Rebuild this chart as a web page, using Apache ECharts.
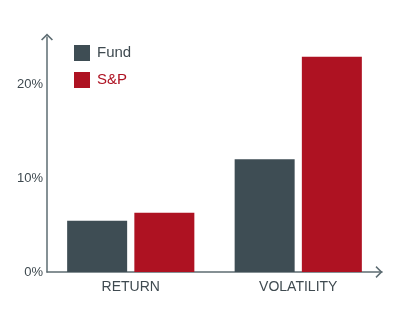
<!DOCTYPE html>
<html><head><meta charset="utf-8">
<script src="https://cdn.jsdelivr.net/npm/echarts@6/dist/echarts.min.js"></script>
<style>html,body{margin:0;padding:0;background:#fff}#c{width:402px;height:320px}</style>
</head><body><div id="c"></div>
<script>
const categories = ['RETURN', 'VOLATILITY'];
const fundValues = [5.45, 12.0];
const spValues = [6.3, 22.9];
const seriesNames = ['Fund', 'S&P'];
const yTicks = [0, 10, 20];

const FUND = '#3e4d54', SP = '#ae1222', AXIS = '#5d6c72', TXT = '#3f4a50';
const chev = 'path://M0,6 L6,0 L12,6 L10.8,7 L6,2.2 L1.2,7 Z';
const chart = echarts.init(document.getElementById('c'), null, {renderer: 'canvas'});
chart.setOption({
  animation: false,
  textStyle: {fontFamily: 'Liberation Sans, Arial, sans-serif'},
  grid: {left: 47, right: 20, top: 37, bottom: 48, containLabel: false},
  legend: {
    orient: 'vertical', left: 74, top: 45, padding: 0, itemWidth: 16, itemHeight: 16, itemGap: 11,
    icon: 'rect',
    textStyle: {fontSize: 15, padding: [0, 0, 0, 2]},
    data: [
      {name: seriesNames[0], textStyle: {color: TXT}},
      {name: seriesNames[1], textStyle: {color: SP}}
    ]
  },
  xAxis: {
    type: 'category', data: categories,
    axisLine: {lineStyle: {color: AXIS, width: 1.5}, symbol: ['none', chev], symbolSize: [12, 7], symbolOffset: [0, -3]},
    axisTick: {show: false},
    axisLabel: {color: TXT, fontSize: 14, margin: 8}
  },
  yAxis: {
    type: 'value', min: 0, max: 25, interval: 5,
    axisLine: {show: true, lineStyle: {color: AXIS, width: 1.5}, symbol: ['none', chev], symbolSize: [12, 7], symbolOffset: [0, 0]},
    axisTick: {show: false},
    splitLine: {show: false},
    axisLabel: {color: TXT, fontSize: 13, margin: 4,
      formatter: v => yTicks.indexOf(v) >= 0 ? v + '%' : ''}
  },
  series: [
    {name: seriesNames[0], type: 'bar', data: fundValues, barWidth: 60, barGap: '12%', itemStyle: {color: FUND}},
    {name: seriesNames[1], type: 'bar', data: spValues, barWidth: 60, barGap: '12%', itemStyle: {color: SP}}
  ]
});
</script></body></html>
